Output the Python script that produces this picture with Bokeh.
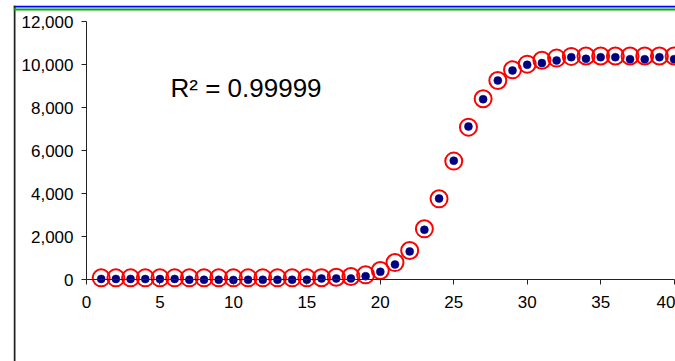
from bokeh.plotting import figure
from bokeh.models import (LinearAxis, FixedTicker, NumeralTickFormatter, Label,
                          ColumnDataSource, Range1d, Span)
from bokeh.embed import file_html
from bokeh.resources import INLINE

# ---- data ----
x_vals = list(range(1, 41))
observed = [50, 50, 50, 45, 45, 50, 10, 10, 10, 0,
            10, 10, 10, 10, 10, 70, 70, 70, 177, 381,
            721, 1326, 2335, 3791, 5550, 7140, 8409, 9279, 9744, 10009,
            10088, 10209, 10363, 10288, 10363, 10363, 10270, 10270, 10363, 10270]
fitted = [100, 100, 100, 100, 100, 100, 100, 100, 100, 100,
          100, 100, 100, 100, 100, 105, 130, 165, 240, 440,
          810, 1370, 2380, 3775, 5530, 7110, 8430, 9280, 9775, 10040,
          10220, 10320, 10400, 10420, 10420, 10420, 10420, 10420, 10420, 10420]
x_ticks = [0, 5, 10, 15, 20, 25, 30, 35, 40]
y_ticks = [0, 2000, 4000, 6000, 8000, 10000, 12000]
r2_text = "R\u00b2 = 0.99999"

src = ColumnDataSource(dict(x=x_vals, obs=observed, fit=fitted))

FONT = "Liberation Sans"
W, H = 675, 361
BORDER_L, BORDER_T = 13, 5
X0, X1 = -4.969, 40.095
Y0, Y1 = -3791, 12767

p = figure(width=W, height=H, output_backend="svg", toolbar_location=None,
           x_axis_location=None, y_axis_location=None,
           x_range=Range1d(X0, X1), y_range=Range1d(Y0, Y1),
           min_border_left=BORDER_L, min_border_top=BORDER_T,
           min_border_right=0, min_border_bottom=0)
p.title.visible = False
p.grid.visible = False
p.background_fill_color = "white"
p.border_fill_color = "white"
p.outline_line_color = None

# chart-area border (left and top edges only, as in the cropped original)
px_x = (X1 - X0) / (W - BORDER_L)
px_y = (Y1 - Y0) / (H - BORDER_T)
p.add_layout(Span(location=X0 + px_x, dimension="height",
                  line_color="#222222", line_width=2))
# diagnostics: glyph span near the top (blue) and annotation span 4 px lower (green)
p.hspan(y=[Y1 - px_y], line_color="#0000FF", line_width=2)
p.add_layout(Span(location=Y1 - 4 * px_y, dimension="width",
                  line_color="#00AA00", line_width=2))

xaxis = LinearAxis(fixed_location=0, ticker=FixedTicker(ticks=x_ticks), bounds=(0, 40))
yaxis = LinearAxis(fixed_location=0, ticker=FixedTicker(ticks=y_ticks), bounds=(0, 12000),
                   formatter=NumeralTickFormatter(format="0,0"))
for ax in (xaxis, yaxis):
    ax.axis_line_color = "#222222"
    ax.axis_line_width = 1
    ax.major_tick_line_color = "#222222"
    ax.major_tick_out = 5
    ax.major_tick_in = 0
    ax.minor_tick_line_color = None
    ax.major_label_text_font = FONT
    ax.major_label_text_font_size = "17px"
    ax.major_label_text_color = "black"
xaxis.major_label_standoff = 11
yaxis.major_label_standoff = 8
p.add_layout(xaxis, "below")
p.add_layout(yaxis, "left")

p.scatter("x", "fit", source=src, size=17, fill_color=None, line_color="#FF0000", line_width=2)
p.scatter("x", "obs", source=src, size=8, fill_color="#000080", line_color="#000080", line_width=0.5)

p.add_layout(Label(x=5.72, y=8950, text=r2_text, text_font=FONT, text_font_size="26px",
                   text_color="black", text_baseline="alphabetic"))

open("out.html", "w").write(file_html(p, INLINE))
